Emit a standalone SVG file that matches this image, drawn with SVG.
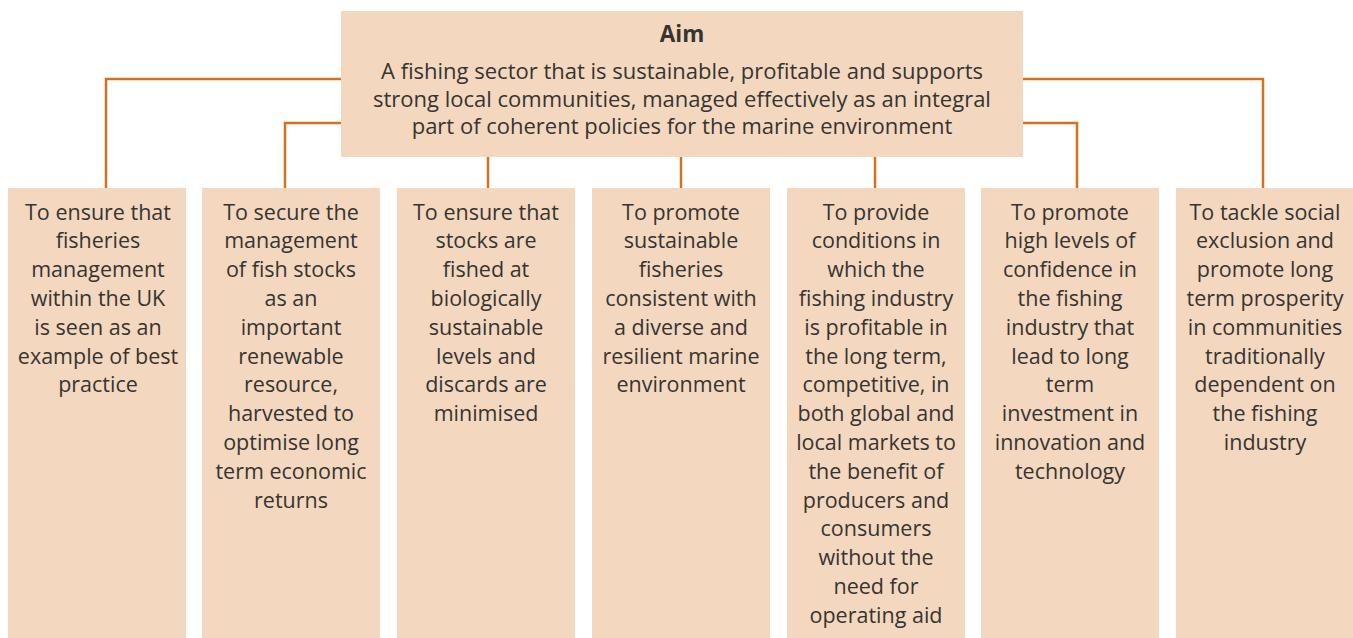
<svg xmlns="http://www.w3.org/2000/svg" width="1353" height="638" viewBox="0 0 1353 638">
<style>
.box{fill:#f3d8bf}
.t{font-family:"Open Sans","Noto Sans",sans-serif;font-size:21.5px;fill:#363432;text-anchor:middle}
.top{font-size:22px}
.b{font-weight:bold;font-size:22.5px}
.c{fill:none;stroke:#d4711f;stroke-width:2.5}
</style>
<rect width="1353" height="638" fill="#ffffff"/>
<g id="connectors">
<polyline class="c" points="341,79 106,79 106,188"/>
<polyline class="c" points="341,123 285,123 285,188"/>
<line class="c" x1="488" y1="157" x2="488" y2="188"/>
<line class="c" x1="681" y1="157" x2="681" y2="188"/>
<line class="c" x1="875" y1="157" x2="875" y2="188"/>
<polyline class="c" points="1023,123 1077,123 1077,188"/>
<polyline class="c" points="1023,79 1263,79 1263,188"/>
</g>
<g id="aim">
<rect class="box" x="341" y="11" width="682" height="146"/>
<text class="t b" x="682" y="42">Aim</text>
<text class="t top" x="682" y="79">A fishing sector that is sustainable, profitable and supports<tspan x="682" dy="27.7">strong local communities, managed effectively as an integral</tspan><tspan x="682" dy="27.7">part of coherent policies for the marine environment</tspan></text>
</g>
<g id="obj1">
<rect class="box" x="8" y="188" width="178" height="450"/>
<text class="t" x="98" y="219.5">To ensure that<tspan x="98" dy="28.8">fisheries</tspan><tspan x="98" dy="28.8">management</tspan><tspan x="98" dy="28.8">within the UK</tspan><tspan x="98" dy="28.8">is seen as an</tspan><tspan x="98" dy="28.8">example of best</tspan><tspan x="98" dy="28.8">practice</tspan></text>
</g>
<g id="obj2">
<rect class="box" x="202" y="188" width="178" height="450"/>
<text class="t" x="291" y="219.5">To secure the<tspan x="291" dy="28.8">management</tspan><tspan x="291" dy="28.8">of fish stocks</tspan><tspan x="291" dy="28.8">as an</tspan><tspan x="291" dy="28.8">important</tspan><tspan x="291" dy="28.8">renewable</tspan><tspan x="291" dy="28.8">resource,</tspan><tspan x="291" dy="28.8">harvested to</tspan><tspan x="291" dy="28.8">optimise long</tspan><tspan x="291" dy="28.8">term economic</tspan><tspan x="291" dy="28.8">returns</tspan></text>
</g>
<g id="obj3">
<rect class="box" x="397" y="188" width="178" height="450"/>
<text class="t" x="486" y="219.5">To ensure that<tspan x="486" dy="28.8">stocks are</tspan><tspan x="486" dy="28.8">fished at</tspan><tspan x="486" dy="28.8">biologically</tspan><tspan x="486" dy="28.8">sustainable</tspan><tspan x="486" dy="28.8">levels and</tspan><tspan x="486" dy="28.8">discards are</tspan><tspan x="486" dy="28.8">minimised</tspan></text>
</g>
<g id="obj4">
<rect class="box" x="592" y="188" width="178" height="450"/>
<text class="t" x="681" y="219.5">To promote<tspan x="681" dy="28.8">sustainable</tspan><tspan x="681" dy="28.8">fisheries</tspan><tspan x="681" dy="28.8">consistent with</tspan><tspan x="681" dy="28.8">a diverse and</tspan><tspan x="681" dy="28.8">resilient marine</tspan><tspan x="681" dy="28.8">environment</tspan></text>
</g>
<g id="obj5">
<rect class="box" x="787" y="188" width="178" height="450"/>
<text class="t" x="876" y="219.5">To provide<tspan x="876" dy="28.8">conditions in</tspan><tspan x="876" dy="28.8">which the</tspan><tspan x="876" dy="28.8">fishing industry</tspan><tspan x="876" dy="28.8">is profitable in</tspan><tspan x="876" dy="28.8">the long term,</tspan><tspan x="876" dy="28.8">competitive, in</tspan><tspan x="876" dy="28.8">both global and</tspan><tspan x="876" dy="28.8">local markets to</tspan><tspan x="876" dy="28.8">the benefit of</tspan><tspan x="876" dy="28.8">producers and</tspan><tspan x="876" dy="28.8">consumers</tspan><tspan x="876" dy="28.8">without the</tspan><tspan x="876" dy="28.8">need for</tspan><tspan x="876" dy="28.8">operating aid</tspan></text>
</g>
<g id="obj6">
<rect class="box" x="981" y="188" width="178" height="450"/>
<text class="t" x="1070" y="219.5">To promote<tspan x="1070" dy="28.8">high levels of</tspan><tspan x="1070" dy="28.8">confidence in</tspan><tspan x="1070" dy="28.8">the fishing</tspan><tspan x="1070" dy="28.8">industry that</tspan><tspan x="1070" dy="28.8">lead to long</tspan><tspan x="1070" dy="28.8">term</tspan><tspan x="1070" dy="28.8">investment in</tspan><tspan x="1070" dy="28.8">innovation and</tspan><tspan x="1070" dy="28.8">technology</tspan></text>
</g>
<g id="obj7">
<rect class="box" x="1176" y="188" width="178" height="450"/>
<text class="t" x="1265" y="219.5">To tackle social<tspan x="1265" dy="28.8">exclusion and</tspan><tspan x="1265" dy="28.8">promote long</tspan><tspan x="1265" dy="28.8">term prosperity</tspan><tspan x="1265" dy="28.8">in communities</tspan><tspan x="1265" dy="28.8">traditionally</tspan><tspan x="1265" dy="28.8">dependent on</tspan><tspan x="1265" dy="28.8">the fishing</tspan><tspan x="1265" dy="28.8">industry</tspan></text>
</g>
</svg>
